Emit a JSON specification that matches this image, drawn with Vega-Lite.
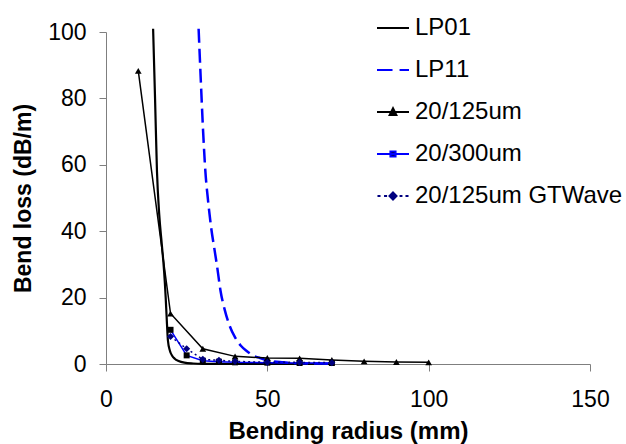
{
  "$schema": "https://vega.github.io/schema/vega-lite/v6.json",
  "autosize": {"type": "none"},
  "padding": {"left": 106, "top": 32, "right": 36, "bottom": 80},
  "width": 484,
  "height": 332,
  "background": "white",
  "config": {
    "font": "Liberation Sans",
    "view": {"stroke": null},
    "axis": {
      "grid": false,
      "domainColor": "#7f7f7f",
      "tickColor": "#7f7f7f",
      "tickSize": 7,
      "labelColor": "black",
      "titleColor": "black",
      "labelFont": "Liberation Sans",
      "titleFont": "Liberation Sans",
      "labelFontSize": 23,
      "titleFontSize": 23,
      "titleFontWeight": "bold",
      "labelFlush": false,
      "labelOverlap": false
    },
    "legend": {
      "title": null,
      "padding": 0,
      "symbolSize": 1024,
      "symbolStrokeWidth": 2,
      "symbolOpacity": 1,
      "labelFont": "Liberation Sans",
      "labelFontSize": 24,
      "labelColor": "black",
      "labelOffset": 5,
      "labelLimit": 0,
      "rowPadding": 13
    }
  },
  "data": {
    "values": [
      {"series": "LP01", "x": 14.6, "y": 101},
      {"series": "LP01", "x": 15.2, "y": 80},
      {"series": "LP01", "x": 15.8, "y": 58},
      {"series": "LP01", "x": 16.5, "y": 45},
      {"series": "LP01", "x": 17.3, "y": 36},
      {"series": "LP01", "x": 18.0, "y": 28},
      {"series": "LP01", "x": 18.5, "y": 20},
      {"series": "LP01", "x": 18.8, "y": 14},
      {"series": "LP01", "x": 19.2, "y": 7},
      {"series": "LP01", "x": 19.8, "y": 4},
      {"series": "LP01", "x": 20.5, "y": 2.5},
      {"series": "LP01", "x": 21.3, "y": 1.6},
      {"series": "LP01", "x": 22.5, "y": 0.9},
      {"series": "LP01", "x": 24.3, "y": 0.4},
      {"series": "LP01", "x": 27, "y": 0.15},
      {"series": "LP01", "x": 30, "y": 0.05},
      {"series": "LP01", "x": 40, "y": 0},
      {"series": "LP01", "x": 55, "y": 0},
      {"series": "LP01", "x": 70, "y": 0},
      {"series": "LP11", "x": 28.7, "y": 101},
      {"series": "LP11", "x": 29.4, "y": 85},
      {"series": "LP11", "x": 30.1, "y": 70},
      {"series": "LP11", "x": 30.8, "y": 58},
      {"series": "LP11", "x": 31.6, "y": 49.5},
      {"series": "LP11", "x": 32.6, "y": 41},
      {"series": "LP11", "x": 33.7, "y": 34},
      {"series": "LP11", "x": 34.4, "y": 29.6},
      {"series": "LP11", "x": 35.5, "y": 22},
      {"series": "LP11", "x": 36.8, "y": 16.3},
      {"series": "LP11", "x": 38.4, "y": 11.3},
      {"series": "LP11", "x": 40, "y": 8},
      {"series": "LP11", "x": 41.8, "y": 5.5},
      {"series": "LP11", "x": 43.6, "y": 3.9},
      {"series": "LP11", "x": 45.5, "y": 2.6},
      {"series": "LP11", "x": 47.7, "y": 1.8},
      {"series": "LP11", "x": 50, "y": 1.1},
      {"series": "LP11", "x": 55, "y": 0.5},
      {"series": "LP11", "x": 60, "y": 0.2},
      {"series": "LP11", "x": 70, "y": 0.1},
      {"series": "20/125um", "x": 10, "y": 88.3},
      {"series": "20/125um", "x": 20, "y": 15.2},
      {"series": "20/125um", "x": 30, "y": 4.6},
      {"series": "20/125um", "x": 40, "y": 2.3},
      {"series": "20/125um", "x": 50, "y": 1.8},
      {"series": "20/125um", "x": 60, "y": 1.7},
      {"series": "20/125um", "x": 70, "y": 1.2},
      {"series": "20/125um", "x": 80, "y": 0.8},
      {"series": "20/125um", "x": 90, "y": 0.6},
      {"series": "20/125um", "x": 100, "y": 0.5},
      {"series": "20/300um", "x": 20, "y": 10.3},
      {"series": "20/300um", "x": 25, "y": 2.6},
      {"series": "20/300um", "x": 30, "y": 1.0},
      {"series": "20/300um", "x": 35, "y": 0.7},
      {"series": "20/300um", "x": 40, "y": 0.5},
      {"series": "20/300um", "x": 50, "y": 0.4},
      {"series": "20/300um", "x": 60, "y": 0.3},
      {"series": "20/300um", "x": 70, "y": 0.3},
      {"series": "20/125um GTWave", "x": 20, "y": 8.3},
      {"series": "20/125um GTWave", "x": 25, "y": 4.6},
      {"series": "20/125um GTWave", "x": 30, "y": 1.4},
      {"series": "20/125um GTWave", "x": 35, "y": 1.1},
      {"series": "20/125um GTWave", "x": 40, "y": 0.8},
      {"series": "20/125um GTWave", "x": 50, "y": 0.5},
      {"series": "20/125um GTWave", "x": 60, "y": 0.5},
      {"series": "20/125um GTWave", "x": 70, "y": 0.4}
    ]
  },
  "encoding": {
    "x": {
      "field": "x",
      "type": "quantitative",
      "scale": {"domain": [0, 150], "nice": false, "zero": false},
      "axis": {
        "title": "Bending radius (mm)",
        "titleFontSize": 24,
        "values": [0, 50, 100, 150],
        "labelPadding": 17,
        "titlePadding": 8
      }
    },
    "y": {
      "field": "y",
      "type": "quantitative",
      "scale": {"domain": [0, 100], "nice": false, "zero": false},
      "axis": {
        "title": "Bend loss (dB/m)",
        "values": [0, 20, 40, 60, 80, 100],
        "labelPadding": 13,
        "titlePadding": 12
      }
    }
  },
  "layer": [
    {
      "transform": [{"filter": "datum.series == 'LP01'"}],
      "mark": {"type": "line", "color": "black", "strokeWidth": 2.2, "interpolate": "monotone"}
    },
    {
      "transform": [{"filter": "datum.series == 'LP11'"}],
      "mark": {"type": "line", "color": "#0000ff", "strokeWidth": 2.5, "strokeDash": [14, 6], "interpolate": "monotone"}
    },
    {
      "transform": [{"filter": "datum.series == '20/125um'"}],
      "mark": {"type": "line", "color": "black", "strokeWidth": 1.5}
    },
    {
      "transform": [{"filter": "datum.series == '20/125um'"}],
      "mark": {"type": "point", "shape": "triangle-up", "filled": true, "color": "black", "size": 45, "opacity": 1}
    },
    {
      "transform": [{"filter": "datum.series == '20/300um'"}],
      "mark": {"type": "line", "color": "#0000ff", "strokeWidth": 1.5}
    },
    {
      "transform": [{"filter": "datum.series == '20/300um'"}],
      "mark": {"type": "point", "shape": "square", "filled": true, "color": "black", "size": 36, "opacity": 1}
    },
    {
      "transform": [{"filter": "datum.series == '20/125um GTWave'"}],
      "mark": {"type": "line", "color": "#000080", "strokeWidth": 1.5, "strokeDash": [2, 3]}
    },
    {
      "transform": [{"filter": "datum.series == '20/125um GTWave'"}],
      "mark": {"type": "point", "shape": "diamond", "filled": true, "color": "#000080", "size": 50, "opacity": 1}
    },
    {
      "mark": {"type": "point", "filled": true, "opacity": 0, "strokeWidth": 2},
      "encoding": {
        "shape": {
          "field": "series",
          "type": "nominal",
          "scale": {
            "domain": ["LP01", "LP11", "20/125um", "20/300um", "20/125um GTWave"],
            "range": [
              "M-1,0H1",
              "M-1,0H-0.03M0.41,0H1",
              "M-1,0H1M0,-0.24L0.21,0.18L-0.21,0.18Z",
              "M-1,0H1M-0.16,-0.16H0.16V0.16H-0.16Z",
              "M-0.97,0H-0.78M-0.56,0H-0.37M0.41,0H0.59M0.78,0H0.97M0,-0.22L0.22,0L0,0.22L-0.22,0Z"
            ]
          },
          "legend": {"orient": "none", "legendX": 270, "legendY": -21}
        },
        "stroke": {
          "field": "series",
          "type": "nominal",
          "scale": {
            "domain": ["LP01", "LP11", "20/125um", "20/300um", "20/125um GTWave"],
            "range": ["#000000", "#0000ff", "#000000", "#0000ff", "#000080"]
          }
        },
        "fill": {
          "field": "series",
          "type": "nominal",
          "scale": {
            "domain": ["LP01", "LP11", "20/125um", "20/300um", "20/125um GTWave"],
            "range": ["#000000", "#0000ff", "#000000", "#000000", "#000080"]
          }
        }
      }
    }
  ]
}
